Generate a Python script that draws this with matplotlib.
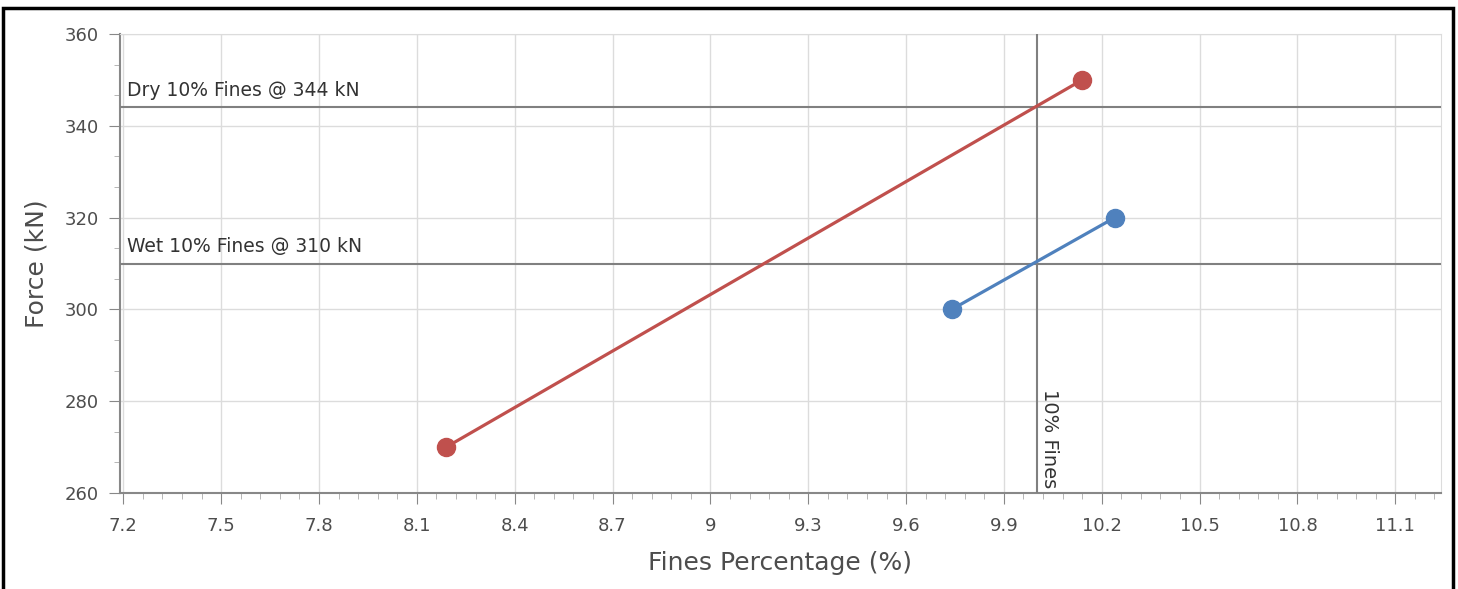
import matplotlib.pyplot as plt
from matplotlib.patches import Rectangle
from matplotlib.ticker import AutoMinorLocator, MultipleLocator, FuncFormatter

# data
dry_fines = [8.19, 10.14]
dry_force = [270, 350]
wet_fines = [9.74, 10.24]
wet_force = [300, 320]

dry_ref = 344
wet_ref = 310
fines_ref = 10.0

red = '#C0504D'
blue = '#4F81BD'
text_col = '#4d4d4d'

fig = plt.figure(figsize=(14.58, 5.89), dpi=100)
ax = fig.add_axes([120 / 1458, 1 - 493 / 589, (1441 - 120) / 1458, (493 - 34) / 589])

ax.plot(dry_fines, dry_force, color=red, lw=2.3, marker='o', ms=13, zorder=5)
ax.plot(wet_fines, wet_force, color=blue, lw=2.3, marker='o', ms=13, zorder=5)

# reference lines
ax.axhline(dry_ref, color='#808080', lw=1.5, zorder=3)
ax.axhline(wet_ref, color='#808080', lw=1.5, zorder=3)
ax.axvline(fines_ref, color='#808080', lw=1.5, zorder=3)
ax.text(7.21, dry_ref + 1.6, 'Dry 10% Fines @ 344 kN', fontsize=13.5, color='#333333', va='bottom', ha='left')
ax.text(7.21, wet_ref + 1.6, 'Wet 10% Fines @ 310 kN', fontsize=13.5, color='#333333', va='bottom', ha='left')
ax.text(fines_ref + 0.012, 261, '10% Fines', fontsize=14, color='#333333', rotation=-90,
        va='bottom', ha='left')

ax.set_xlim(7.19, 11.24)
ax.set_ylim(260, 360)
ax.xaxis.set_major_locator(MultipleLocator(0.3))
ax.xaxis.set_minor_locator(AutoMinorLocator(5))
ax.yaxis.set_major_locator(MultipleLocator(20))
ax.yaxis.set_minor_locator(AutoMinorLocator(3))
ax.xaxis.set_major_formatter(FuncFormatter(lambda v, p: f'{v:.1f}'.rstrip('0').rstrip('.')))

ax.grid(True, which='major', color='#dcdcdc', lw=1)
ax.set_axisbelow(True)
for side in ['top', 'right']:
    ax.spines[side].set_color('#dcdcdc')
for side in ['left', 'bottom']:
    ax.spines[side].set_color('#888888')
    ax.spines[side].set_linewidth(1.5)

ax.tick_params(axis='both', which='major', length=8, color='#888888', labelsize=13, labelcolor=text_col)
ax.tick_params(axis='x', which='major', pad=9)
ax.tick_params(axis='y', which='major', pad=7)
ax.tick_params(axis='both', which='minor', length=4, color='#aaaaaa')

ax.set_xlabel('Fines Percentage (%)', fontsize=18, color=text_col, labelpad=12)
ax.set_ylabel('Force (kN)', fontsize=18, color=text_col, labelpad=12)

# outer frame
fig.patches.append(Rectangle((3 / 1458, -0.05), 1450 / 1458, 1 - 8 / 589 + 0.05,
                             transform=fig.transFigure, fill=False, edgecolor='black', lw=2.5))

fig.savefig('out.png', dpi=100)
